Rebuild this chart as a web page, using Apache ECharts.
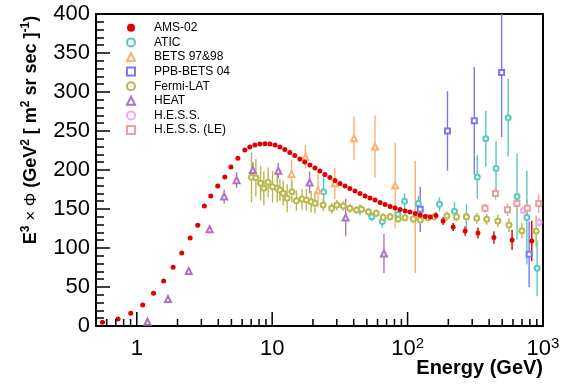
<!DOCTYPE html>
<html><head><meta charset="utf-8">
<script src="https://cdn.jsdelivr.net/npm/echarts@6/dist/echarts.min.js"></script>
<style>html,body{margin:0;padding:0;background:#fff}#c{width:580px;height:389px}</style>
</head><body><div id="c"></div>
<script>
// ---- data: [energy (GeV), E^3*flux, error] ----
const seriesNames = ['AMS-02','ATIC','BETS 97&98','PPB-BETS 04','Fermi-LAT','HEAT','H.E.S.S.','H.E.S.S. (LE)'];
const xTickValues = [1, 10, 100, 1000];
const xTickLabels = ['1', '10', '10{s|2}', '10{s|3}'];
const yTickLabels = [0, 50, 100, 150, 200, 250, 300, 350, 400];

const ams = [[0.558,4.7,0],[0.727,9.0,0],[0.903,16.2,0],[1.107,26.9,0],[1.329,41.9,0],[1.58,57.7,0],[1.855,75.2,0],[2.15,93.6,0],[2.48,112.8,0],[2.82,129.1,0],[3.16,153.8,0],[3.52,166.7,0],[3.96,179.5,0],[4.47,191,0],[4.96,204,0],[5.58,215,0],[6.28,225.6,0],[6.84,229.5,0],[7.45,232.1,0],[8.12,233.3,0],[8.84,233.6,0],[9.63,233.3,0],[10.5,232.1,0],[11.4,229.5,0],[12.4,226.3,0],[13.5,222.4,0],[14.7,218.6,0],[16.0,214.1,0],[17.4,210.3,0],[19.0,206.4,0],[20.7,202.6,0],[22.5,198.7,0],[24.5,194.2,0],[26.7,190.4,0],[29.1,186.5,0],[31.7,182.7,0],[34.5,179.5,0],[37.5,176.3,0],[40.9,173.1,0],[44.5,169.9,0],[48.5,166.7,0],[52.8,164.1,0],[57.5,161.5,0],[62.6,158.3,0],[68.2,155.8,0],[74.3,153.2,0],[80.9,151.3,0],[88.1,149.4,0],[95.9,147.4,0],[104,146.2,0],[114,144.2,0],[124,142.3,0],[135,140.4,0],[147,139.7,2],[162,141.7,4],[183,134.6,5],[217,126.9,5],[266,121.8,6],[331,119.2,7],[434,113.5,8],[591,110.3,13],[826,109,26]];
const atic = [[24,172,20],[44.5,149,7],[54.4,140,6],[65,134,8],[85,143,7],[95,160,10],[120,157,10],[172,156,9],[222,147,12],[272,140,16],[327,191,28],[378,240,36],[450,202,35],[553,267,50],[643,166,55],[760,139,60],[905,74,36]];
const bets = [[13.9,195,18],[17.6,217,15],[21.8,174,22],[29,183,20],[40.2,240.6,28],[57.5,230,40],[80.9,180,55],[114,140,72]];
const ppbBets = [[124,149.6,29],[197,250,51],[311,263,69],[495,325,83],[790,92,42]];
const fermi = [[7.04,190.6,32],[7.58,190.1,24],[8.21,182.9,22],[8.68,176.5,22],[9.34,184.2,19],[10.07,178.6,20],[10.9,176.5,18],[11.4,174.4,14],[12.06,170.1,16],[12.9,163.7,18],[13.98,172.2,14],[15.1,160.6,13],[16.6,162.8,13],[17.9,161.5,14],[19.4,159.4,14],[20.7,157.3,13],[23.8,155,8],[27.5,150.9,7],[30,155,7],[33.5,153.8,6],[37.5,150.9,6],[42,148.7,5],[45.7,149.6,5],[51.4,146.6,5],[58.8,144.5,5],[66,139.4,5],[74.3,140.1,5],[85.2,137.2,5],[95.6,138.9,5],[110,137.2,5],[124,135.9,5],[141,138.9,5],[158,140.1,5],[195,141,6],[230,140.1,6],[272,140,6],[324,138,7],[384,136.8,7],[464,134.6,8],[561,129.5,9],[698,122.2,10],[890,121.8,20]];
const heat = [[1.2,5.5,1],[1.70,34.6,2],[2.42,70.5,3],[3.45,124,5],[4.42,166,9],[5.46,187,10],[7.2,200,10],[11.1,199,10],[18.9,184,14],[34.9,139,24],[66.9,93,25]];
const hess = [[715,148,5],[935,133,6]];
const hessLE = [[373,151,6],[446,170,8],[547,149,8],[642,157,10],[766,151,10],[930,157,12]];

const FONT = '"Liberation Sans", Arial, sans-serif';
const defs = [
  {name: seriesNames[0], data: ams,     color: '#e00000', symbol: 'circle',        size: 5},
  {name: seriesNames[1], data: atic,    color: '#55c8c0', symbol: 'emptyCircle',   size: 5},
  {name: seriesNames[2], data: bets,    color: '#ffb070', symbol: 'emptyTriangle', size: 6},
  {name: seriesNames[3], data: ppbBets, color: '#7878f0', symbol: 'emptyRect',     size: 5},
  {name: seriesNames[4], data: fermi,   color: '#b8b84c', symbol: 'emptyCircle',   size: 5},
  {name: seriesNames[5], data: heat,    color: '#b070c8', symbol: 'emptyTriangle', size: 6},
  {name: seriesNames[6], data: hess,    color: '#f5a8f5', symbol: 'emptyCircle',   size: 5},
  {name: seriesNames[7], data: hessLE,  color: '#e8a0a0', symbol: 'emptyRect',     size: 5}
];

// axis minor ticks on log x axis (2..9 x 10^k)
const xTicks = [];
for (let k = -1; k <= 3; k++) {
  for (let m = 1; m <= 9; m++) {
    const t = m * Math.pow(10, k);
    if (t > 0.55 && t <= 1000.0001) xTicks.push([t, 0, m === 1 ? 1 : 0]);
  }
}

const series = [];
defs.forEach(d => {
  series.push({
    type: 'custom', name: d.name + ' err', data: d.data, z: 2, silent: true, clip: true,
    encode: {x: 0, y: 1},
    renderItem: (params, api) => {
      const x = api.value(0), v = api.value(1), e = api.value(2);
      if (!e) return null;
      const p1 = api.coord([x, v - e]), p2 = api.coord([x, v + e]);
      return {type: 'line', shape: {x1: p1[0], y1: p1[1], x2: p2[0], y2: p2[1]},
              style: {stroke: d.color, lineWidth: 1.4}};
    }
  });
});
const order = [1,2,3,4,5,6,7,0];
order.forEach(i => {
  const d = defs[i];
  series.push({
    type: 'scatter', name: d.name, data: d.data.map(p => [p[0], p[1]]),
    symbol: d.symbol, symbolSize: d.size, z: 3 + (i === 0 ? 1 : 0),
    itemStyle: {color: d.color, borderColor: d.color, borderWidth: i === 0 ? 0 : 1.1, opacity: 1},
    emphasis: {disabled: true}
  });
});
series.push({
  type: 'custom', name: 'xticks', data: xTicks, z: 5, silent: true, clip: false,
  encode: {x: 0, y: 1},
  renderItem: (params, api) => {
    const p = api.coord([api.value(0), 0]);
    const len = api.value(2) ? 14 : 7;
    return {type: 'line', shape: {x1: p[0], y1: p[1], x2: p[0], y2: p[1] - len},
            style: {stroke: '#000', lineWidth: 1.5}};
  }
});

const option = {
  animation: false,
  backgroundColor: '#fff',
  grid: {left: 96, right: 37, top: 14, bottom: 63, show: true, borderColor: '#000', borderWidth: 2, backgroundColor: 'transparent'},
  legend: {
    orient: 'vertical', left: 126, top: 20.5, padding: 0, itemGap: 0,
    itemWidth: 8, itemHeight: 8, selectedMode: false, data: seriesNames,
    textStyle: {fontSize: 12, fontFamily: FONT, color: '#000', lineHeight: 14.6, padding: [0, 0, 0, 14]}
  },
  xAxis: {
    type: 'log', logBase: 10, min: 0.5, max: 1000,
    axisLine: {show: true, lineStyle: {color: '#000', width: 2}},
    axisTick: {show: false}, minorTick: {show: false},
    splitLine: {show: false}, minorSplitLine: {show: false},
    axisLabel: {
      color: '#000', fontSize: 22, fontFamily: FONT, margin: 10, lineHeight: 26,
      showMinLabel: true, showMaxLabel: true,
      formatter: v => {
        const lg = Math.log10(v);
        const r = Math.round(lg);
        if (Math.abs(lg - r) > 1e-6) return '';
        const idx = xTickValues.indexOf(Math.pow(10, r));
        return idx >= 0 ? xTickLabels[idx] : '';
      },
      rich: {s: {fontSize: 15, fontFamily: FONT, color: '#000', verticalAlign: 'top', lineHeight: 15}}
    }
  },
  yAxis: {
    type: 'value', min: 0, max: 400, interval: 50,
    axisLine: {show: true, lineStyle: {color: '#000', width: 2}},
    axisTick: {show: true, inside: true, length: 14, lineStyle: {color: '#000', width: 1.5}},
    minorTick: {show: true, splitNumber: 5, length: 8, lineStyle: {color: '#000', width: 1.5}},
    splitLine: {show: false},
    axisLabel: {color: '#000', fontSize: 22, fontFamily: FONT, margin: 6,
      formatter: v => yTickLabels.indexOf(v) >= 0 ? String(v) : ''}
  },
  graphic: [
    {
      type: 'text', x: 31, y: 130, rotation: Math.PI / 2, silent: true,
      style: {
        text: '{b|E}{sup|3}{n| × Φ }{b|(GeV}{sup|2}{b| [ m}{sup|2}{b| sr sec ]}{sup|-1}{b|)}',
        align: 'center', verticalAlign: 'middle', fill: '#000',
        rich: {
          b: {fontFamily: FONT, fontWeight: 'bold', fontSize: 18, lineHeight: 22, fill: '#000'},
          n: {fontFamily: FONT, fontSize: 17, lineHeight: 22, fill: '#000'},
          sup: {fontFamily: FONT, fontWeight: 'bold', fontSize: 12, lineHeight: 12, verticalAlign: 'top', fill: '#000'}
        }
      }
    },
    {
      type: 'text', x: 543, y: 368, silent: true,
      style: {text: 'Energy (GeV)', font: 'bold 20px ' + FONT, align: 'right', verticalAlign: 'middle', fill: '#000'}
    }
  ],
  series: series
};
const chart = echarts.init(document.getElementById('c'), null, {renderer: 'canvas', width: 580, height: 389});
chart.setOption(option);
</script>
</body></html>
